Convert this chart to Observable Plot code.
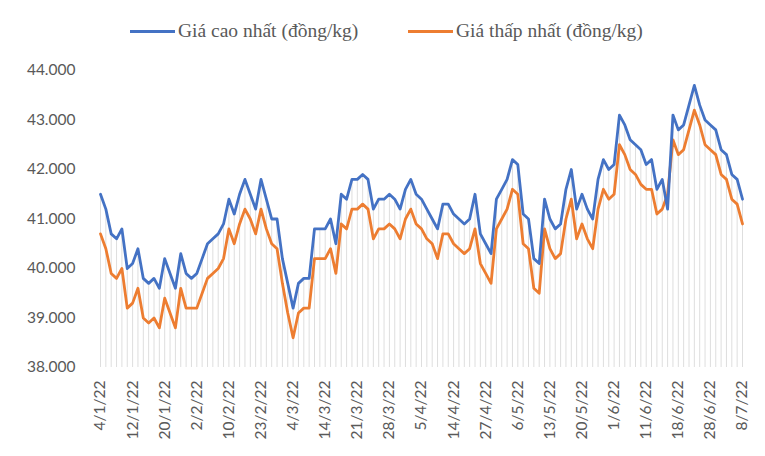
<!DOCTYPE html>
<html><head><meta charset="utf-8">
<script src="https://cdn.jsdelivr.net/npm/d3@7"></script>
<script src="https://cdn.jsdelivr.net/npm/@observablehq/plot@0.6"></script>
<style>
body{margin:0;background:#fff;}
#wrap{position:relative;width:765px;height:456px;overflow:hidden;background:#fff;}
#legend{position:absolute;top:17px;left:0;width:765px;height:28px;font-family:"Liberation Serif",serif;font-size:19.5px;color:#595959;}
.item{position:absolute;top:0;display:flex;align-items:center;height:28px;white-space:nowrap;}
.sw{width:45px;height:3px;margin-right:3px;}
#chart{position:absolute;left:0;top:0;}
</style></head>
<body><div id="wrap"><div id="chart"></div><div id="legend"></div></div>
<script>
const seriesNames = ["Giá cao nhất (đồng/kg)", "Giá thấp nhất (đồng/kg)"];
const seriesColors = ["#4472C4", "#ED7D31"];
const tickLabels = ["4/1/22","12/1/22","20/1/22","2/2/22","10/2/22","23/2/22","4/3/22","14/3/22","21/3/22","28/3/22","5/4/22","14/4/22","27/4/22","6/5/22","13/5/22","20/5/22","1/6/22","11/6/22","18/6/22","28/6/22","8/7/22"];
const highValues = [
41500,41200,40700,40600,40800,40000,40100,40400,39800,39700,
39800,39600,40200,39900,39600,40300,39900,39800,39900,40200,
40500,40600,40700,40900,41400,41100,41500,41800,41500,41200,
41800,41400,41000,41000,40200,39700,39200,39700,39800,39800,
40800,40800,40800,41000,40500,41500,41400,41800,41800,41900,
41800,41200,41400,41400,41500,41400,41200,41600,41800,41500,
41400,41200,41000,40800,41300,41300,41100,41000,40900,41000,
41500,40700,40500,40300,41400,41600,41800,42200,42100,41100,
41000,40200,40100,41400,41000,40800,40900,41600,42000,41200,
41500,41200,41000,41800,42200,42000,42100,43100,42900,42600,
42500,42400,42100,42200,41600,41800,41200,43100,42800,42900,
43300,43700,43300,43000,42900,42800,42400,42300,41900,41800,
41400];
const lowValues = [
40700,40400,39900,39800,40000,39200,39300,39600,39000,38900,
39000,38800,39400,39100,38800,39600,39200,39200,39200,39500,
39800,39900,40000,40200,40800,40500,40900,41200,41000,40700,
41200,40800,40500,40400,39700,39100,38600,39100,39200,39200,
40200,40200,40200,40400,39900,40900,40800,41200,41200,41300,
41200,40600,40800,40800,40900,40800,40600,41000,41200,40900,
40800,40600,40500,40200,40700,40700,40500,40400,40300,40400,
40800,40100,39900,39700,40800,41000,41200,41600,41500,40500,
40400,39600,39500,40800,40400,40200,40300,41000,41400,40600,
40900,40600,40400,41200,41600,41400,41500,42500,42300,42000,
41900,41700,41600,41600,41100,41200,41500,42600,42300,42400,
42800,43200,42900,42500,42400,42300,41900,41800,41400,41300,
40900];

const labelStep = 6;
const rows = highValues.map((h, i) => ({i, high: h, low: lowValues[i]}));
const fmt = d => d3.format(",")(d).replace(/,/g, ".");

const chart = Plot.plot({
  width: 765, height: 456,
  marginLeft: 100, marginRight: 23, marginTop: 70, marginBottom: 89,
  style: {fontFamily: "Lato", fontSize: "15px", color: "#595959", background: "transparent"},
  x: {domain: [0, highValues.length - 1]},
  y: {domain: [38000, 44000]},
  marks: [
    Plot.ruleX(rows, {x: "i", y1: 38000, y2: d => Math.max(d.high, d.low), stroke: "#dedede", strokeWidth: 1}),
    Plot.line(rows, {x: "i", y: "low", stroke: seriesColors[1], strokeWidth: 2.8}),
    Plot.line(rows, {x: "i", y: "high", stroke: seriesColors[0], strokeWidth: 2.8}),
    Plot.axisY({ticks: d3.range(38000, 44001, 1000), tickFormat: fmt, tickSize: 0, tickPadding: 25, fontSize: 15.5, label: null, fill: "#595959"}),
    Plot.axisX({ticks: tickLabels.map((_, k) => k * labelStep), tickFormat: d => tickLabels[d / labelStep], tickRotate: -90, tickSize: 0, tickPadding: 13, fontSize: 15.5, label: null, fill: "#595959"})
  ]
});
document.getElementById("chart").appendChild(chart);

const legend = document.getElementById("legend");
const lefts = [130, 408];
seriesNames.forEach((name, k) => {
  const item = document.createElement("div");
  item.className = "item";
  item.style.left = lefts[k] + "px";
  const sw = document.createElement("div");
  sw.className = "sw";
  sw.style.background = seriesColors[k];
  const tx = document.createElement("span");
  tx.textContent = name;
  item.appendChild(sw); item.appendChild(tx);
  legend.appendChild(item);
});
</script>
</body></html>
